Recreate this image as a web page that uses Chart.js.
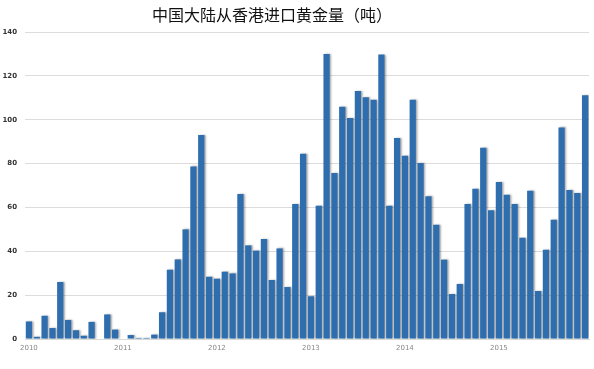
<!DOCTYPE html>
<html lang="zh">
<head>
<meta charset="UTF-8">
<title>中国大陆从香港进口黄金量</title>
<script src="https://cdn.jsdelivr.net/npm/chart.js"></script>
<style>
    html, body { margin: 0; padding: 0; background: #fff; }
    #wrap { width: 594px; height: 369px; position: relative; }
</style>
</head>
<body>
<div id="wrap"><canvas id="goldChart" width="594" height="369"></canvas></div>
<script>
// data, tonnes per month, Jan 2010 .. Dec 2015
const years = ['2010', '2011', '2012', '2013', '2014', '2015'];
const imports2010 = [8, 1, 10.6, 5, 26, 8.7, 4, 1.5, 7.8, 0, 11.2, 4.3];
const imports2011 = [0, 1.8, 0.5, 0.5, 2, 12.2, 31.6, 36.3, 50, 78.7, 93, 28.4];
const imports2012 = [27.5, 30.7, 29.9, 66.1, 42.7, 40.3, 45.6, 26.9, 41.3, 23.7, 61.6, 84.5];
const imports2013 = [19.5, 60.8, 130, 75.7, 105.9, 100.8, 113.1, 110.2, 109.1, 129.7, 60.8, 91.7];
const imports2014 = [83.6, 109.1, 80.3, 65.1, 52.1, 36.2, 20.5, 25.1, 61.6, 68.5, 87.2, 58.7];
const imports2015 = [71.6, 65.8, 61.6, 46.2, 67.6, 21.9, 40.7, 54.4, 96.5, 67.9, 66.6, 111.1];
const yTicks = [0, 20, 40, 60, 80, 100, 120, 140];
const chartTitle = '中国大陆从香港进口黄金量（吨）';

const values = [].concat(imports2010, imports2011, imports2012, imports2013, imports2014, imports2015);
const labels = [];
years.forEach(y => { for (let m = 1; m <= 12; m++) labels.push(y + '-' + m); });

// soft shadow to the right of the bars, like the original
const barShadow = {
    id: 'barShadow',
    beforeDatasetsDraw(chart) {
        const c = chart.ctx;
        c.save();
        c.shadowColor = 'rgba(0,0,0,0.35)';
        c.shadowOffsetX = 1.5;
        c.shadowOffsetY = 0;
        c.shadowBlur = 2;
    },
    afterDatasetsDraw(chart) { chart.ctx.restore(); }
};

// title sits a bit left of centre in the original
const offTitle = {
    id: 'offTitle',
    afterDraw(chart) {
        const c = chart.ctx;
        c.save();
        c.font = "16px 'Noto Sans CJK SC', sans-serif";
        c.fillStyle = '#111';
        c.textAlign = 'center';
        c.textBaseline = 'middle';
        c.fillText(chartTitle, 272, 15);
        c.restore();
    }
};

new Chart(document.getElementById('goldChart'), {
    type: 'bar',
    data: {
        labels: labels,
        datasets: [{
            data: values,
            backgroundColor: '#2f6eae',
            borderWidth: 0,
            barPercentage: 0.8,
            categoryPercentage: 1.0
        }]
    },
    options: {
        responsive: false,
        animation: false,
        devicePixelRatio: 1,
        layout: { padding: { left: 0, right: 5, top: 32, bottom: 0 } },
        plugins: {
            legend: { display: false },
            tooltip: { enabled: false },
            title: { display: false }
        },
        scales: {
            x: {
                grid: { display: false, drawTicks: false },
                border: { display: true, color: '#d9d9d9' },
                ticks: {
                    autoSkip: false,
                    maxRotation: 0,
                    padding: 5,
                    color: '#888',
                    font: { family: 'DejaVu Sans', size: 7 },
                    callback: function (v, i) { return i % 12 === 0 ? years[i / 12] : ''; }
                },
                afterFit: s => { s.height = 30; }
            },
            y: {
                min: 0,
                max: 140,
                afterBuildTicks: s => { s.ticks = yTicks.map(v => ({ value: v })); },
                grid: { color: '#dcdcdc', drawTicks: false },
                border: { display: false },
                ticks: {
                    padding: 8,
                    color: '#333',
                    font: { family: 'DejaVu Sans', size: 7, weight: 'bold' }
                },
                afterFit: s => { s.width = 25; }
            }
        }
    },
    plugins: [barShadow, offTitle]
});
</script>
</body>
</html>
